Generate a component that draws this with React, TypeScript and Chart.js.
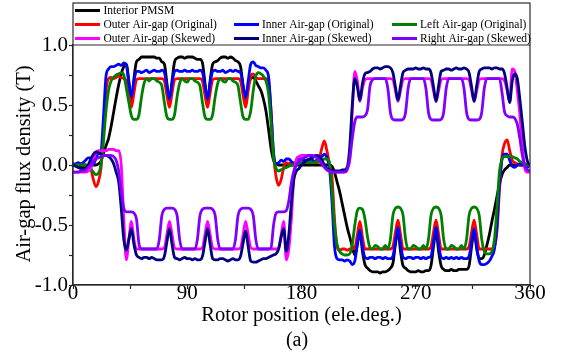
import React, { useEffect, useRef } from "react";
import { Chart, registerables } from "chart.js";

Chart.register(...registerables);

// Rotor position samples (electrical degrees)
const ANGLES = [
  0, 2, 4, 6, 8, 10, 12, 14, 16, 18,
  20, 22, 24, 26, 28, 30, 32, 34, 36, 38,
  40, 42, 44, 46, 48, 50, 52, 54, 56, 58,
  60, 62, 64, 66, 68, 70, 72, 74, 76, 78,
  80, 82, 84, 86, 88, 90, 92, 94, 96, 98,
  100, 102, 104, 106, 108, 110, 112, 114, 116, 118,
  120, 122, 124, 126, 128, 130, 132, 134, 136, 138,
  140, 142, 144, 146, 148, 150, 152, 154, 156, 158,
  160, 162, 164, 166, 168, 170, 172, 174, 176, 178,
  180, 182, 184, 186, 188, 190, 192, 194, 196, 198,
  200, 202, 204, 206, 208, 210, 212, 214, 216, 218,
  220, 222, 224, 226, 228, 230, 232, 234, 236, 238,
  240, 242, 244, 246, 248, 250, 252, 254, 256, 258,
  260, 262, 264, 266, 268, 270, 272, 274, 276, 278,
  280, 282, 284, 286, 288, 290, 292, 294, 296, 298,
  300, 302, 304, 306, 308, 310, 312, 314, 316, 318,
  320, 322, 324, 326, 328, 330, 332, 334, 336, 338,
  340, 342, 344, 346, 348, 350, 352, 354, 356, 358,
  360,
];

const X_LABELED = [0, 90, 180, 270, 360];
const Y_LABELED = [-1.0, -0.5, 0.0, 0.5, 1.0];

const interiorPMSM = [
  0.00, 0.00, -0.01, -0.01, -0.02, -0.02, -0.02, -0.01, 0.00, 0.00,
  0.01, 0.03, 0.10, 0.16, 0.22, 0.32, 0.44, 0.56, 0.67, 0.76,
  0.82, 0.84, 0.70, 0.52, 0.72, 0.86, 0.88, 0.90, 0.90, 0.90,
  0.90, 0.90, 0.90, 0.89, 0.89, 0.86, 0.84, 0.68, 0.52, 0.70,
  0.86, 0.89, 0.90, 0.90, 0.89, 0.90, 0.90, 0.90, 0.89, 0.88,
  0.88, 0.85, 0.68, 0.52, 0.70, 0.84, 0.86, 0.87, 0.89, 0.90,
  0.90, 0.89, 0.90, 0.89, 0.87, 0.86, 0.82, 0.66, 0.53, 0.66,
  0.72, 0.73, 0.70, 0.66, 0.62, 0.55, 0.45, 0.30, 0.14, 0.04,
  0.01, 0.00, 0.00, 0.00, 0.00, 0.00, 0.00, 0.00, 0.00, 0.00,
  0.00, 0.00, 0.00, 0.00, 0.00, 0.00, 0.00, 0.00, 0.00, 0.00,
  0.00, 0.00, -0.01, -0.06, -0.14, -0.22, -0.32, -0.42, -0.52, -0.60,
  -0.68, -0.75, -0.66, -0.55, -0.72, -0.83, -0.86, -0.88, -0.89, -0.89,
  -0.89, -0.90, -0.89, -0.89, -0.88, -0.86, -0.82, -0.66, -0.55, -0.72,
  -0.84, -0.86, -0.88, -0.89, -0.89, -0.89, -0.88, -0.89, -0.89, -0.88,
  -0.88, -0.84, -0.68, -0.55, -0.72, -0.84, -0.87, -0.88, -0.88, -0.87,
  -0.88, -0.88, -0.87, -0.87, -0.87, -0.87, -0.84, -0.68, -0.55, -0.70,
  -0.78, -0.78, -0.75, -0.67, -0.58, -0.47, -0.37, -0.26, -0.16, -0.08,
  -0.04, -0.02, 0.00, 0.00, 0.00, 0.00, 0.00, 0.00, 0.00, 0.00,
  0.00,
];

const outerOriginal = [
  0.00, 0.00, 0.01, 0.01, 0.00, 0.00, -0.01, -0.03, -0.12, -0.18,
  -0.14, -0.03, 0.25, 0.62, 0.72, 0.73, 0.72, 0.73, 0.74, 0.73,
  0.72, 0.70, 0.60, 0.48, 0.60, 0.71, 0.72, 0.72, 0.72, 0.72,
  0.72, 0.72, 0.72, 0.72, 0.72, 0.72, 0.70, 0.58, 0.48, 0.60,
  0.71, 0.72, 0.72, 0.72, 0.72, 0.72, 0.72, 0.72, 0.72, 0.72,
  0.72, 0.70, 0.58, 0.48, 0.60, 0.71, 0.72, 0.72, 0.72, 0.72,
  0.72, 0.72, 0.72, 0.72, 0.72, 0.72, 0.70, 0.58, 0.48, 0.62,
  0.74, 0.76, 0.73, 0.72, 0.72, 0.72, 0.72, 0.70, 0.45, 0.08,
  -0.10, -0.17, -0.12, -0.02, 0.02, 0.01, 0.02, 0.02, 0.01, 0.02,
  0.02, 0.02, 0.03, 0.02, 0.02, 0.03, 0.02, 0.05, 0.14, 0.20,
  0.12, 0.01, -0.10, -0.45, -0.68, -0.71, -0.70, -0.70, -0.71, -0.70,
  -0.70, -0.69, -0.58, -0.47, -0.60, -0.70, -0.70, -0.70, -0.70, -0.70,
  -0.70, -0.70, -0.70, -0.70, -0.70, -0.70, -0.68, -0.56, -0.46, -0.58,
  -0.70, -0.70, -0.70, -0.70, -0.70, -0.70, -0.70, -0.70, -0.70, -0.70,
  -0.70, -0.68, -0.56, -0.46, -0.58, -0.70, -0.70, -0.70, -0.70, -0.70,
  -0.70, -0.70, -0.70, -0.70, -0.70, -0.70, -0.68, -0.56, -0.46, -0.58,
  -0.70, -0.70, -0.70, -0.70, -0.70, -0.70, -0.68, -0.55, -0.20, 0.08,
  0.18, 0.21, 0.12, 0.04, 0.02, 0.01, 0.00, 0.00, 0.00, 0.00,
  0.00,
];

const innerOriginal = [
  0.01, 0.01, 0.02, 0.01, 0.02, 0.04, 0.06, 0.06, 0.01, 0.05,
  0.10, 0.11, 0.40, 0.74, 0.80, 0.82, 0.82, 0.83, 0.84, 0.83,
  0.85, 0.83, 0.68, 0.57, 0.70, 0.78, 0.78, 0.77, 0.78, 0.79,
  0.77, 0.78, 0.79, 0.78, 0.78, 0.79, 0.77, 0.66, 0.55, 0.68,
  0.78, 0.79, 0.78, 0.78, 0.79, 0.78, 0.78, 0.79, 0.78, 0.78,
  0.79, 0.77, 0.66, 0.55, 0.68, 0.78, 0.79, 0.78, 0.78, 0.79,
  0.77, 0.78, 0.79, 0.78, 0.79, 0.78, 0.77, 0.66, 0.56, 0.70,
  0.84, 0.86, 0.83, 0.82, 0.81, 0.81, 0.79, 0.74, 0.45, 0.10,
  0.01, 0.02, 0.04, 0.03, 0.05, 0.05, 0.03, 0.01, 0.02, 0.05,
  0.05, 0.04, 0.03, 0.04, 0.05, 0.03, 0.04, 0.05, 0.07, 0.09,
  0.06, -0.02, -0.30, -0.68, -0.78, -0.79, -0.79, -0.80, -0.79, -0.80,
  -0.83, -0.80, -0.66, -0.54, -0.68, -0.77, -0.78, -0.77, -0.77, -0.78,
  -0.77, -0.77, -0.78, -0.77, -0.78, -0.78, -0.76, -0.64, -0.52, -0.66,
  -0.77, -0.78, -0.77, -0.77, -0.78, -0.77, -0.77, -0.78, -0.77, -0.78,
  -0.77, -0.76, -0.64, -0.52, -0.66, -0.77, -0.78, -0.77, -0.78, -0.77,
  -0.78, -0.77, -0.78, -0.77, -0.78, -0.78, -0.76, -0.64, -0.53, -0.68,
  -0.80, -0.83, -0.83, -0.82, -0.80, -0.76, -0.70, -0.50, -0.15, 0.05,
  0.09, 0.09, 0.04, -0.01, -0.02, 0.00, 0.01, 0.00, -0.01, -0.02,
  0.01,
];

const leftOriginal = [
  0.00, 0.00, 0.00, 0.00, 0.00, 0.00, -0.01, -0.03, -0.06, -0.08,
  -0.07, 0.00, 0.20, 0.45, 0.62, 0.70, 0.73, 0.75, 0.76, 0.77,
  0.75, 0.64, 0.52, 0.41, 0.38, 0.38, 0.42, 0.57, 0.68, 0.72,
  0.70, 0.72, 0.72, 0.70, 0.69, 0.66, 0.52, 0.40, 0.38, 0.38,
  0.42, 0.57, 0.68, 0.72, 0.70, 0.69, 0.72, 0.72, 0.70, 0.69,
  0.66, 0.52, 0.40, 0.38, 0.38, 0.42, 0.57, 0.68, 0.72, 0.70,
  0.69, 0.72, 0.72, 0.70, 0.69, 0.66, 0.52, 0.40, 0.38, 0.38,
  0.45, 0.62, 0.74, 0.77, 0.76, 0.74, 0.70, 0.60, 0.35, 0.06,
  -0.03, -0.05, -0.04, -0.03, -0.02, -0.01, 0.00, 0.00, 0.01, 0.01,
  0.02, 0.02, 0.02, 0.02, 0.02, 0.02, 0.03, 0.03, 0.04, 0.05,
  0.05, 0.02, -0.20, -0.50, -0.66, -0.72, -0.74, -0.75, -0.75, -0.74,
  -0.66, -0.50, -0.38, -0.36, -0.37, -0.45, -0.60, -0.69, -0.70, -0.67,
  -0.68, -0.70, -0.70, -0.67, -0.70, -0.62, -0.42, -0.36, -0.35, -0.36,
  -0.42, -0.62, -0.70, -0.70, -0.67, -0.68, -0.70, -0.70, -0.67, -0.70,
  -0.62, -0.42, -0.36, -0.35, -0.36, -0.42, -0.62, -0.70, -0.70, -0.67,
  -0.68, -0.70, -0.70, -0.67, -0.70, -0.62, -0.42, -0.36, -0.35, -0.36,
  -0.42, -0.62, -0.72, -0.74, -0.74, -0.72, -0.62, -0.35, -0.05, 0.05,
  0.07, 0.07, 0.07, 0.07, 0.06, 0.05, 0.03, 0.02, 0.01, 0.00,
  0.00,
];

const outerSkewed = [
  -0.06, -0.06, -0.06, -0.06, -0.06, -0.06, -0.05, -0.03, 0.04, 0.10,
  0.12, 0.12, 0.12, 0.12, 0.13, 0.13, 0.13, 0.12, 0.12, 0.00,
  -0.45, -0.79, -0.62, -0.47, -0.62, -0.70, -0.70, -0.70, -0.70, -0.70,
  -0.70, -0.70, -0.70, -0.70, -0.70, -0.70, -0.69, -0.58, -0.47, -0.58,
  -0.69, -0.70, -0.70, -0.70, -0.70, -0.70, -0.70, -0.70, -0.70, -0.70,
  -0.70, -0.69, -0.58, -0.47, -0.58, -0.69, -0.70, -0.70, -0.70, -0.70,
  -0.70, -0.70, -0.70, -0.70, -0.70, -0.70, -0.69, -0.58, -0.47, -0.58,
  -0.69, -0.70, -0.70, -0.70, -0.70, -0.70, -0.70, -0.70, -0.70, -0.70,
  -0.70, -0.69, -0.58, -0.47, -0.79, -0.70, -0.45, -0.10, 0.05, 0.07,
  0.08, 0.08, 0.08, 0.08, 0.08, 0.08, 0.08, 0.07, 0.04, 0.00,
  -0.04, -0.05, -0.05, -0.06, -0.06, -0.06, -0.06, -0.05, -0.02, 0.05,
  0.45, 0.78, 0.70, 0.53, 0.64, 0.71, 0.72, 0.72, 0.72, 0.72,
  0.72, 0.72, 0.72, 0.72, 0.72, 0.72, 0.71, 0.62, 0.53, 0.62,
  0.71, 0.72, 0.72, 0.72, 0.72, 0.72, 0.72, 0.72, 0.72, 0.72,
  0.72, 0.71, 0.62, 0.53, 0.62, 0.71, 0.72, 0.72, 0.72, 0.72,
  0.72, 0.72, 0.72, 0.72, 0.72, 0.72, 0.71, 0.62, 0.53, 0.62,
  0.71, 0.72, 0.72, 0.72, 0.72, 0.72, 0.72, 0.72, 0.72, 0.72,
  0.70, 0.62, 0.53, 0.80, 0.78, 0.62, 0.42, 0.15, -0.03, -0.06,
  -0.06,
];

const innerSkewed = [
  0.00, -0.01, -0.02, -0.03, -0.04, -0.03, 0.00, 0.05, 0.09, 0.11,
  0.10, 0.09, 0.08, 0.08, 0.07, 0.05, 0.01, -0.06, -0.14, -0.36,
  -0.62, -0.71, -0.62, -0.53, -0.66, -0.75, -0.77, -0.78, -0.77, -0.77,
  -0.78, -0.77, -0.78, -0.79, -0.79, -0.79, -0.76, -0.64, -0.53, -0.66,
  -0.77, -0.78, -0.79, -0.78, -0.77, -0.78, -0.78, -0.79, -0.78, -0.79,
  -0.79, -0.76, -0.64, -0.53, -0.66, -0.78, -0.79, -0.79, -0.78, -0.78,
  -0.79, -0.80, -0.79, -0.78, -0.79, -0.79, -0.76, -0.65, -0.55, -0.68,
  -0.80, -0.81, -0.81, -0.80, -0.79, -0.78, -0.78, -0.77, -0.76, -0.75,
  -0.74, -0.70, -0.60, -0.53, -0.72, -0.58, -0.32, -0.12, -0.05, -0.03,
  0.00, 0.02, 0.04, 0.05, 0.06, 0.07, 0.08, 0.07, 0.04, 0.00,
  -0.03, -0.04, -0.05, -0.05, -0.05, -0.05, -0.04, -0.04, -0.02, 0.15,
  0.50, 0.72, 0.65, 0.54, 0.68, 0.76, 0.77, 0.78, 0.80, 0.81,
  0.81, 0.80, 0.81, 0.82, 0.82, 0.81, 0.77, 0.65, 0.54, 0.66,
  0.77, 0.79, 0.80, 0.80, 0.80, 0.81, 0.80, 0.80, 0.81, 0.80,
  0.80, 0.77, 0.65, 0.53, 0.66, 0.78, 0.79, 0.80, 0.80, 0.79,
  0.80, 0.81, 0.80, 0.80, 0.81, 0.80, 0.77, 0.65, 0.53, 0.66,
  0.78, 0.80, 0.81, 0.81, 0.81, 0.80, 0.81, 0.81, 0.80, 0.80,
  0.76, 0.64, 0.52, 0.70, 0.76, 0.72, 0.55, 0.35, 0.15, 0.03,
  0.00,
];

const rightSkewed = [
  -0.06, -0.06, -0.06, -0.05, -0.05, -0.04, -0.02, 0.00, 0.03, 0.05,
  0.06, 0.07, 0.08, 0.08, 0.08, 0.08, 0.07, 0.04, -0.05, -0.22,
  -0.36, -0.39, -0.39, -0.39, -0.40, -0.45, -0.66, -0.70, -0.70, -0.70,
  -0.70, -0.70, -0.70, -0.70, -0.62, -0.42, -0.37, -0.36, -0.36, -0.36,
  -0.37, -0.42, -0.62, -0.70, -0.70, -0.70, -0.70, -0.70, -0.70, -0.62,
  -0.42, -0.37, -0.36, -0.36, -0.36, -0.37, -0.42, -0.62, -0.70, -0.70,
  -0.70, -0.70, -0.70, -0.70, -0.62, -0.42, -0.37, -0.36, -0.36, -0.36,
  -0.37, -0.42, -0.62, -0.70, -0.70, -0.70, -0.70, -0.70, -0.69, -0.50,
  -0.40, -0.39, -0.39, -0.39, -0.38, -0.30, -0.15, -0.05, 0.00, 0.03,
  0.05, 0.06, 0.07, 0.08, 0.08, 0.07, 0.06, 0.04, 0.01, -0.02,
  -0.04, -0.05, -0.06, -0.06, -0.06, -0.06, -0.06, -0.06, -0.04, 0.05,
  0.22, 0.36, 0.40, 0.40, 0.40, 0.41, 0.46, 0.66, 0.71, 0.72,
  0.72, 0.72, 0.72, 0.72, 0.64, 0.44, 0.38, 0.375, 0.375, 0.375,
  0.38, 0.44, 0.64, 0.72, 0.72, 0.72, 0.72, 0.72, 0.72, 0.64,
  0.44, 0.38, 0.375, 0.375, 0.375, 0.38, 0.44, 0.64, 0.72, 0.72,
  0.72, 0.72, 0.72, 0.72, 0.64, 0.44, 0.38, 0.375, 0.375, 0.375,
  0.38, 0.44, 0.64, 0.72, 0.72, 0.72, 0.72, 0.72, 0.72, 0.60,
  0.44, 0.41, 0.40, 0.40, 0.39, 0.34, 0.22, 0.08, -0.01, -0.04,
  -0.05,
];

const SERIES = [
  { label: "Interior PMSM", color: "#000000", values: interiorPMSM },
  { label: "Outer Air-gap (Original)", color: "#ff0000", values: outerOriginal },
  { label: "Inner Air-gap (Original)", color: "#0000ff", values: innerOriginal },
  { label: "Left Air-gap (Original)", color: "#008000", values: leftOriginal },
  { label: "Outer Air-gap (Skewed)", color: "#ff00ff", values: outerSkewed },
  { label: "Inner Air-gap (Skewed)", color: "#000080", values: innerSkewed },
  { label: "Right Air-gap (Skewed)", color: "#8000ff", values: rightSkewed },
];

const FONT_FAMILY = '"Liberation Serif", "Times New Roman", Times, serif';
const AXIS_COLOR = "#2a2a2a";

const framePlugin = {
  id: "frameAndLegend",
  afterDraw(chart: any) {
    const { ctx, chartArea } = chart;
    const { left, right, top, bottom } = chartArea;
    const boxTop = 3;
    ctx.save();
    // legend box (white) + frame
    ctx.fillStyle = "#ffffff";
    ctx.fillRect(left, boxTop, right - left, top - boxTop);
    ctx.strokeStyle = AXIS_COLOR;
    ctx.lineWidth = 1.2;
    ctx.strokeRect(left, boxTop, right - left, bottom - boxTop);
    ctx.beginPath();
    ctx.moveTo(left, top);
    ctx.lineTo(right, top);
    ctx.stroke();

    // legend entries
    const rows = [10.5, 24.5, 38.5];
    const cols = [
      { lx: 75, tx: 103.5 },
      { lx: 234, tx: 262 },
      { lx: 392, tx: 420 },
    ];
    const layout = [
      [0, 0, 0],
      [1, 1, 0],
      [2, 1, 1],
      [3, 1, 2],
      [4, 2, 0],
      [5, 2, 1],
      [6, 2, 2],
    ];
    ctx.font = `11.5px ${FONT_FAMILY}`;
    ctx.textBaseline = "middle";
    ctx.textAlign = "left";
    layout.forEach(([si, r, c]) => {
      const s = SERIES[si];
      const y = rows[r];
      const col = cols[c];
      ctx.strokeStyle = s.color;
      ctx.lineWidth = 3;
      ctx.beginPath();
      ctx.moveTo(col.lx, y);
      ctx.lineTo(col.lx + 25, y);
      ctx.stroke();
      ctx.fillStyle = "#000000";
      ctx.fillText(s.label, col.tx, y + 0.5);
    });

    // axis titles
    ctx.fillStyle = "#000000";
    ctx.textAlign = "center";
    ctx.textBaseline = "middle";
    ctx.font = `20.5px ${FONT_FAMILY}`;
    ctx.fillText("Rotor position (ele.deg.)", (left + right) / 2, 315.5);
    ctx.font = `20px ${FONT_FAMILY}`;
    ctx.fillText("(a)", 297, 341);
    ctx.save();
    ctx.translate(24.5, (top + bottom) / 2 - 1);
    ctx.rotate(-Math.PI / 2);
    ctx.font = `20.5px ${FONT_FAMILY}`;
    ctx.fillText("Air-gap flux density (T)", 0, 0);
    ctx.restore();
    ctx.restore();
  },
};

export default function App() {
  const canvasRef = useRef<HTMLCanvasElement | null>(null);

  useEffect(() => {
    const canvas = canvasRef.current;
    if (!canvas) return;
    const datasets = SERIES.map((s, i) => ({
      label: s.label,
      data: s.values.map((v, k) => ({ x: ANGLES[k], y: v })),
      borderColor: s.color,
      backgroundColor: s.color,
      borderWidth: 2.8,
      pointRadius: 0,
      fill: false,
      cubicInterpolationMode: "monotone" as const,
      order: SERIES.length - i,
    }));

    const chart = new Chart(canvas, {
      type: "line",
      data: { datasets },
      options: {
        responsive: false,
        animation: false,
        events: [],
        layout: { padding: { top: 45, right: 34, left: 0, bottom: 0 } },
        plugins: {
          legend: { display: false },
          tooltip: { enabled: false },
        },
        scales: {
          x: {
            type: "linear",
            min: 0,
            max: 360,
            afterFit: (scale: any) => {
              scale.height = 73;
            },
            ticks: {
              stepSize: 45,
              autoSkip: false,
              maxRotation: 0,
              color: "#000000",
              padding: -8,
              font: { family: FONT_FAMILY, size: 21 },
              callback: (v: any) => (X_LABELED.includes(Number(v)) ? String(v) : ""),
            },
            grid: {
              drawOnChartArea: false,
              tickLength: 4,
              color: AXIS_COLOR,
              tickWidth: 1.2,
            },
            border: { color: AXIS_COLOR, width: 1.2 },
          },
          y: {
            type: "linear",
            min: -1,
            max: 1,
            afterFit: (scale: any) => {
              scale.width = 73;
            },
            ticks: {
              stepSize: 0.25,
              autoSkip: false,
              color: "#000000",
              padding: 1,
              font: { family: FONT_FAMILY, size: 21 },
              callback: (v: any) => {
                const n = Number(v);
                const hit = Y_LABELED.find((t) => Math.abs(t - n) < 1e-6);
                return hit === undefined ? "" : hit.toFixed(1);
              },
            },
            grid: {
              drawOnChartArea: false,
              tickLength: 4,
              color: AXIS_COLOR,
              tickWidth: 1.2,
            },
            border: { color: AXIS_COLOR, width: 1.2 },
          },
        },
      },
      plugins: [framePlugin],
    });
    return () => chart.destroy();
  }, []);

  return (
    <div
      style={{
        position: "fixed",
        left: 0,
        top: 0,
        width: 564,
        height: 358,
        background: "#ffffff",
      }}
    >
      <canvas
        ref={canvasRef}
        width={564}
        height={358}
        style={{ display: "block", width: 564, height: 358 }}
      />
    </div>
  );
}
